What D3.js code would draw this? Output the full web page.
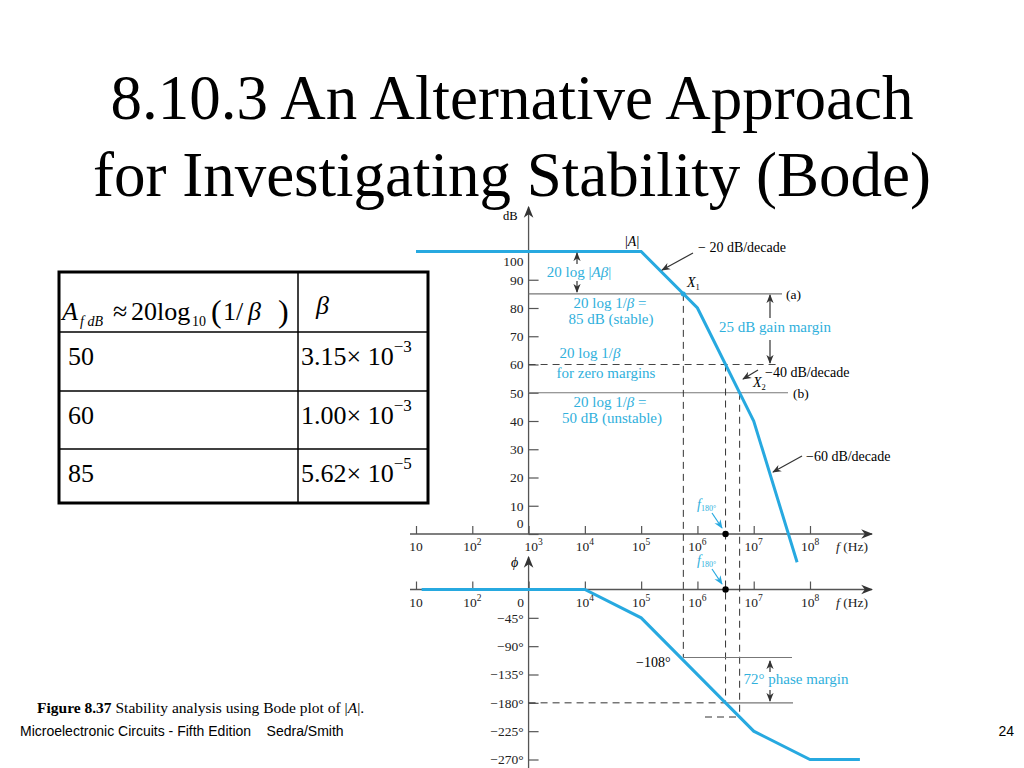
<!DOCTYPE html>
<html><head><meta charset="utf-8">
<script src="https://cdn.jsdelivr.net/npm/d3@7"></script>
<style>body{margin:0;background:#fff}svg{display:block}</style>
</head><body>
<svg id="c" width="1024" height="768"></svg>
<script>
// ---------- data ----------
const freqExponents = [1, 2, 3, 4, 5, 6, 7, 8];
const dbTicks = [0, 10, 20, 30, 40, 50, 60, 70, 80, 90, 100];
const phaseTicks = [0, -45, -90, -135, -180, -225, -270];
const magFreq = [10, 1e5, 1e6, 1e7, 5.9e7];
const magDb = [100, 100, 80, 40, -10];
const phaseFreq = [12.6, 1e4, 1e5, 3.16e6, 1e7, 1e8, 7.7e8];
const phaseDeg = [0, 0, -45, -180, -225, -270, -270];
const betaDb = [85, 60, 50];             // (a), zero margins, (b)
const crossFreq = [5.62e5, 3.16e6, 5.62e6]; // X1, f180, X2
const crossPhase = [-108, -180, -202.5];
const tableAf = ["50", "60", "85"];
const tableBeta = ["3.15", "1.00", "5.62"];
const tableExp = ["−3", "−3", "−5"];

// ---------- setup ----------
const svg = d3.select("#c");
const SERIF = "'Liberation Serif','Times New Roman',serif";
const SANS = "'Liberation Sans',Arial,sans-serif";
const CYAN = "#27a9e0", CYANT = "#2fb0dc", AX = "#555";

const defs = svg.append("defs");
function marker(id, color, size) {
  defs.append("marker").attr("id", id).attr("viewBox", "0 0 10 10")
    .attr("refX", 9).attr("refY", 5).attr("markerWidth", size).attr("markerHeight", size)
    .attr("markerUnits", "userSpaceOnUse").attr("orient", "auto")
    .append("path").attr("d", "M0,1 L10,5 L0,9 L3,5 z").attr("fill", color);
}
marker("ab", "#333", 9);
marker("ac", CYAN, 9);
marker("ax", "#333", 12);

// ---------- title ----------
const title = svg.append("g").attr("font-family", SERIF).attr("font-size", 63).attr("text-anchor", "middle").attr("fill", "#000");
title.append("text").attr("x", 512).attr("y", 119).text("8.10.3 An Alternative Approach");
title.append("text").attr("x", 512).attr("y", 196).text("for Investigating Stability (Bode)");

// ---------- scales ----------
const x = d3.scaleLog().domain([10, 1e8]).range([416, 810]);
const yDb = d3.scaleLinear().domain([0, 100]).range([534, 251.5]);
const yPh = d3.scaleLinear().domain([0, -270]).range([589.5, 759.5]);
const x0 = x(1e3);

const plot = svg.append("g").attr("font-family", SERIF).attr("font-size", 13.5);

// ---------- axes ----------
function freqAxis(y0, zeroStyle) {
  const g = plot.append("g").attr("transform", `translate(0,${y0})`)
    .call(d3.axisBottom(x).tickValues(freqExponents.map(e => 10 ** e))
      .tickSizeInner(-8).tickSizeOuter(0).tickFormat(""));
  g.attr("font-size", null).attr("font-family", null).attr("text-anchor", null);
  g.select(".domain").remove();
  g.selectAll(".tick line").attr("stroke", AX).attr("stroke-width", 1.2);
  g.selectAll(".tick text").remove();
  freqExponents.forEach(e => {
    if (e === 3 && zeroStyle) return;
    const t = g.append("text").attr("x", x(10 ** e) + (e === 3 ? 5 : 0)).attr("y", 17)
      .attr("text-anchor", "middle").attr("fill", "#222");
    t.append("tspan").text("10");
    if (e > 1) t.append("tspan").attr("dy", -6).attr("font-size", 9.5).text(e);
  });
  g.append("line").attr("x1", x(10) - 6).attr("x2", 872).attr("y1", 0).attr("y2", 0)
    .attr("stroke", AX).attr("stroke-width", 1.3).attr("marker-end", "url(#ax)");
  const fl = g.append("text").attr("x", 836).attr("y", 17).attr("fill", "#222").attr("text-anchor", "start");
  fl.append("tspan").attr("font-style", "italic").text("f");
  fl.append("tspan").text(" (Hz)");
  return g;
}
freqAxis(yDb(0), false);
freqAxis(yPh(0), true);

// dB axis
const gDb = plot.append("g").attr("transform", `translate(${x0},0)`)
  .call(d3.axisLeft(yDb).tickValues(dbTicks).tickSizeInner(-10).tickSizeOuter(0).tickPadding(5));
gDb.attr("font-size", null).attr("font-family", null);
gDb.select(".domain").remove();
gDb.selectAll(".tick line").attr("stroke", AX).attr("stroke-width", 1.2);
gDb.selectAll(".tick text").attr("fill", "#222")
  .attr("dy", d => d === 100 ? "1.05em" : d === 0 ? "-0.45em" : "0.32em");
plot.append("line").attr("x1", x0).attr("x2", x0).attr("y1", yDb(0)).attr("y2", 207)
  .attr("stroke", AX).attr("stroke-width", 1.3).attr("marker-end", "url(#ax)");
plot.append("text").attr("x", 503).attr("y", 220).attr("font-size", 12.5).text("dB");

// phase axis
const gPh = plot.append("g").attr("transform", `translate(${x0},0)`)
  .call(d3.axisLeft(yPh).tickValues(phaseTicks.filter(d => d !== 0)).tickSizeInner(-10).tickSizeOuter(0).tickPadding(5)
    .tickFormat(d => d3.format("d")(d).replace("-", "−") + "°"));
gPh.attr("font-size", null).attr("font-family", null);
gPh.select(".domain").remove();
gPh.selectAll(".tick line").attr("stroke", AX).attr("stroke-width", 1.2);
gPh.selectAll(".tick text").attr("fill", "#222");
gPh.append("text").attr("x", -8).attr("y", yPh(0) + 17).attr("text-anchor", "middle").attr("fill", "#222").text(phaseTicks[0]);
plot.append("line").attr("x1", x0).attr("x2", x0).attr("y1", 768).attr("y2", 557)
  .attr("stroke", AX).attr("stroke-width", 1.3).attr("marker-end", "url(#ax)");
plot.append("text").attr("x", 511).attr("y", 567).attr("font-style", "italic").attr("font-size", 14).text("ϕ");

// ---------- reference lines (magnitude) ----------
const refEnd = [782, 778, 788];
betaDb.forEach((d, i) => {
  plot.append("line").attr("x1", x0).attr("x2", refEnd[i]).attr("y1", yDb(d)).attr("y2", yDb(d))
    .attr("stroke", i === 1 ? "#444" : "#777").attr("stroke-width", 1.1)
    .attr("stroke-dasharray", i === 1 ? "7,5" : null);
});
plot.append("text").attr("x", 786).attr("y", yDb(85) + 5).text("(a)");
plot.append("text").attr("x", 793).attr("y", yDb(50) + 5).text("(b)");

// vertical dashed lines
crossFreq.forEach((f, i) => {
  plot.append("line").attr("x1", x(f)).attr("x2", x(f)).attr("y1", yDb(betaDb[i])).attr("y2", yPh(crossPhase[i]))
    .attr("stroke", "#333").attr("stroke-width", 1).attr("stroke-dasharray", "7,5");
});

// phase reference lines
plot.append("line").attr("x1", x(crossFreq[0])).attr("x2", 792).attr("y1", yPh(crossPhase[0])).attr("y2", yPh(crossPhase[0]))
  .attr("stroke", "#777").attr("stroke-width", 1.1);
plot.append("line").attr("x1", x0).attr("x2", x(crossFreq[1])).attr("y1", yPh(-180)).attr("y2", yPh(-180))
  .attr("stroke", "#333").attr("stroke-width", 1).attr("stroke-dasharray", "7,5");
plot.append("line").attr("x1", x(crossFreq[1])).attr("x2", 793).attr("y1", yPh(-180)).attr("y2", yPh(-180))
  .attr("stroke", "#777").attr("stroke-width", 1.1);
plot.append("line").attr("x1", 705).attr("x2", x(crossFreq[2])).attr("y1", yPh(crossPhase[2])).attr("y2", yPh(crossPhase[2]))
  .attr("stroke", "#333").attr("stroke-width", 1).attr("stroke-dasharray", "7,5");

// ---------- curves ----------
const lineMag = d3.line().x((d, i) => x(magFreq[i])).y(d => yDb(d));
plot.append("path").attr("d", lineMag(magDb)).attr("fill", "none").attr("stroke", CYAN).attr("stroke-width", 3);
const linePh = d3.line().x((d, i) => x(phaseFreq[i])).y(d => yPh(d));
plot.append("path").attr("d", linePh(phaseDeg)).attr("fill", "none").attr("stroke", CYAN).attr("stroke-width", 3);

// X1 dot
plot.append("circle").attr("cx", x(crossFreq[0])).attr("cy", yDb(85)).attr("r", 2.5).attr("fill", CYAN);
// f180 dots
[yDb(0), yPh(0)].forEach(yy => plot.append("circle").attr("cx", x(crossFreq[1])).attr("cy", yy).attr("r", 3.2).attr("fill", "#000"));

// ---------- annotations ----------
function arrow(x1, y1, x2, y2, m, color) {
  plot.append("line").attr("x1", x1).attr("y1", y1).attr("x2", x2).attr("y2", y2)
    .attr("stroke", color || "#333").attr("stroke-width", 1.2).attr("marker-end", `url(#${m})`);
}
const ann = plot.append("g").attr("font-size", 14);
const A = ann.append("text").attr("x", 625).attr("y", 246);
A.append("tspan").text("|");
A.append("tspan").attr("font-style", "italic").text("A");
A.append("tspan").text("|");
ann.append("text").attr("x", 698).attr("y", 252).text("− 20 dB/decade");
arrow(693, 253, 662, 270, "ab");
const X1 = ann.append("text").attr("x", 687).attr("y", 287).attr("font-style", "italic");
X1.append("tspan").text("X");
X1.append("tspan").attr("dy", 3).attr("font-size", 8.5).attr("font-style", "normal").text("1");
const X2 = ann.append("text").attr("x", 753).attr("y", 387).attr("font-style", "italic");
X2.append("tspan").text("X");
X2.append("tspan").attr("dy", 3).attr("font-size", 8.5).attr("font-style", "normal").text("2");
ann.append("text").attr("x", 765).attr("y", 377).text("−40 dB/decade");
arrow(758, 370, 743, 379, "ab");
ann.append("text").attr("x", 806).attr("y", 461).text("−60 dB/decade");
arrow(802, 456, 773, 472, "ab");

// cyan labels
const cy = plot.append("g").attr("fill", CYANT).attr("text-anchor", "middle").attr("font-size", 15);
const t1 = cy.append("text").attr("x", 579).attr("y", 277);
t1.append("tspan").text("20 log |");
t1.append("tspan").attr("font-style", "italic").text("Aβ");
t1.append("tspan").text("|");
arrow(577, 264, 577, 253, "ab");
arrow(577, 281, 577, 292, "ab");
function betaLine(xc, yb, suffix) {
  const t = cy.append("text").attr("x", xc).attr("y", yb);
  t.append("tspan").text("20 log 1/");
  t.append("tspan").attr("font-style", "italic").text("β");
  t.append("tspan").text(suffix);
}
betaLine(610, 308, " =");
cy.append("text").attr("x", 611).attr("y", 324).text("85 dB (stable)");
betaLine(590, 358, "");
cy.append("text").attr("x", 606).attr("y", 378).text("for zero margins");
betaLine(610, 407, " =");
cy.append("text").attr("x", 612).attr("y", 423).text("50 dB (unstable)");
cy.append("text").attr("x", 775).attr("y", 332).text("25 dB gain margin");
arrow(770, 318, 770, 295, "ab");
arrow(770, 340, 770, 363, "ab");
cy.append("text").attr("x", 796).attr("y", 684).text("72° phase margin");
arrow(770, 672, 770, 661, "ab");
arrow(770, 690, 770, 701, "ab");

function f180(xl, yb) {
  const t = cy.append("text").attr("x", xl).attr("y", yb).attr("text-anchor", "start").attr("font-size", 14);
  t.append("tspan").attr("font-style", "italic").text("f");
  t.append("tspan").attr("font-size", 8).attr("dy", 2).text("180°");
}
f180(697, 509);
arrow(712, 513, 722, 528, "ac", CYAN);
f180(697, 565);
arrow(712, 569, 722, 584, "ac", CYAN);

ann.append("text").attr("x", 636).attr("y", 667).text("−108°");

// ---------- table ----------
const tbl = svg.append("g").attr("font-family", SERIF);
const colX = [59, 298, 428];
const rowY = [272, 332, 391, 449, 503];
rowY.slice(1, -1).forEach(yy => tbl.append("line").attr("x1", colX[0]).attr("x2", colX[2]).attr("y1", yy).attr("y2", yy).attr("stroke", "#000").attr("stroke-width", 1.5));
tbl.append("line").attr("x1", colX[1]).attr("x2", colX[1]).attr("y1", rowY[0]).attr("y2", rowY[4]).attr("stroke", "#000").attr("stroke-width", 1.5);
tbl.append("rect").attr("x", colX[0]).attr("y", rowY[0]).attr("width", colX[2] - colX[0]).attr("height", rowY[4] - rowY[0])
  .attr("fill", "none").attr("stroke", "#000").attr("stroke-width", 3);
const h = tbl.append("g").attr("font-size", 26);
function hp(xx, yy, txt, opts) {
  const t = h.append("text").attr("x", xx).attr("y", yy).text(txt);
  if (opts && opts.i) t.attr("font-style", "italic");
  if (opts && opts.s) t.attr("font-size", opts.s);
  return t;
}
hp(62, 320, "A", {i: 1});
hp(80, 326, "f dB", {i: 1, s: 14});
hp(113, 320, "≈");
hp(131, 320, "20");
hp(157, 320, "log");
hp(192, 326, "10", {s: 14});
hp(211, 322, "(", {s: 32});
hp(223, 320, "1/");
hp(248, 320, "β", {i: 1});
hp(278, 322, ")", {s: 32});
tbl.append("text").attr("x", 316).attr("y", 314).attr("font-size", 26).attr("font-style", "italic").text("β");
const rowBase = [365, 424, 482];
tableAf.forEach((v, i) => {
  tbl.append("text").attr("x", 68).attr("y", rowBase[i]).attr("font-size", 26).text(v);
  const t = tbl.append("text").attr("x", 301).attr("y", rowBase[i]).attr("font-size", 26);
  t.append("tspan").text(tableBeta[i] + "× 10");
  t.append("tspan").attr("dy", -13).attr("font-size", 17).text(tableExp[i]);
});

// ---------- footer ----------
const cap = svg.append("text").attr("x", 37).attr("y", 713).attr("font-family", SERIF).attr("font-size", 15.5);
cap.append("tspan").attr("font-weight", "bold").text("Figure 8.37");
cap.append("tspan").text("  Stability analysis using Bode plot of |");
cap.append("tspan").attr("font-style", "italic").text("A");
cap.append("tspan").text("|.");
svg.append("text").attr("x", 20).attr("y", 736).attr("font-family", SANS).attr("font-size", 14)
  .style("white-space", "pre").text("Microelectronic Circuits - Fifth Edition    Sedra/Smith");
svg.append("text").attr("x", 1014).attr("y", 736).attr("text-anchor", "end").attr("font-family", SANS).attr("font-size", 14).text("24");
</script>
</body></html>
